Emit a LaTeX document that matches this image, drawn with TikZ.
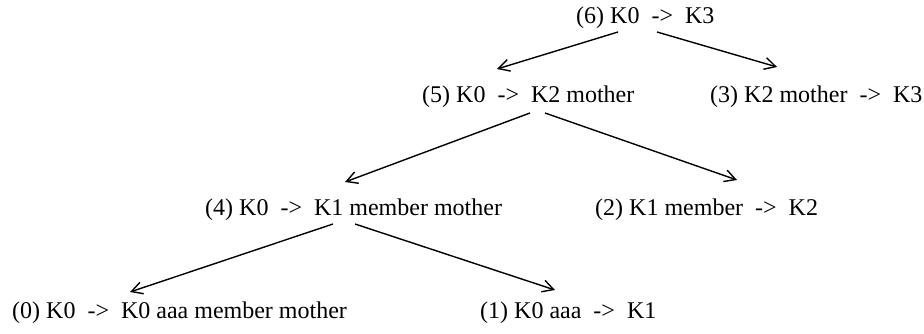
\documentclass[tikz,border=0pt]{standalone}
\usepackage{fontspec}
\setmainfont{Liberation Serif}
\usetikzlibrary{arrows.meta,calc}
\tikzset{
  lbl/.style={anchor=base west, inner sep=0pt, font=\fontsize{24}{28}\selectfont},
  arr/.style={line width=1.4pt, -{Straight Barb[length=11pt,width=12pt,line width=1.4pt]}}
}
\newcommand{\ar}{\ \ ->\ \ }
\begin{document}
\begin{tikzpicture}[x=1pt,y=-1pt]
\path[use as bounding box] (0,0) rectangle (924,334);
\node[lbl] (n6) at (576,24) {(6) K0\ar K3};
\node[lbl] (n5) at (422,103) {(5) K0\ar K2 mother};
\node[lbl] (n3) at (710,103) {(3) K2 mother\ar K3};
\node[lbl] (n4) at (205,215) {(4) K0\ar K1 member mother};
\node[lbl] (n2) at (595,215) {(2) K1 member\ar K2};
\node[lbl] (n0) at (12,318) {(0) K0\ar K0 aaa member mother};
\node[lbl] (n1) at (480,318) {(1) K0 aaa\ar K1};
\draw[arr] ($(n6.base west)+(42,8)$) -- ($(n5.base west)+(75,-34)$);
\draw[arr] ($(n6.base west)+(81,8)$) -- ($(n3.base west)+(67,-36)$);
\draw[arr] ($(n5.base west)+(108,10)$) -- ($(n4.base west)+(140,-33)$);
\draw[arr] ($(n5.base west)+(123,10)$) -- ($(n2.base west)+(142,-35)$);
\draw[arr] ($(n4.base west)+(128,9)$) -- ($(n0.base west)+(118,-26)$);
\draw[arr] ($(n4.base west)+(150,9)$) -- ($(n1.base west)+(75,-28)$);
\end{tikzpicture}
\end{document}
